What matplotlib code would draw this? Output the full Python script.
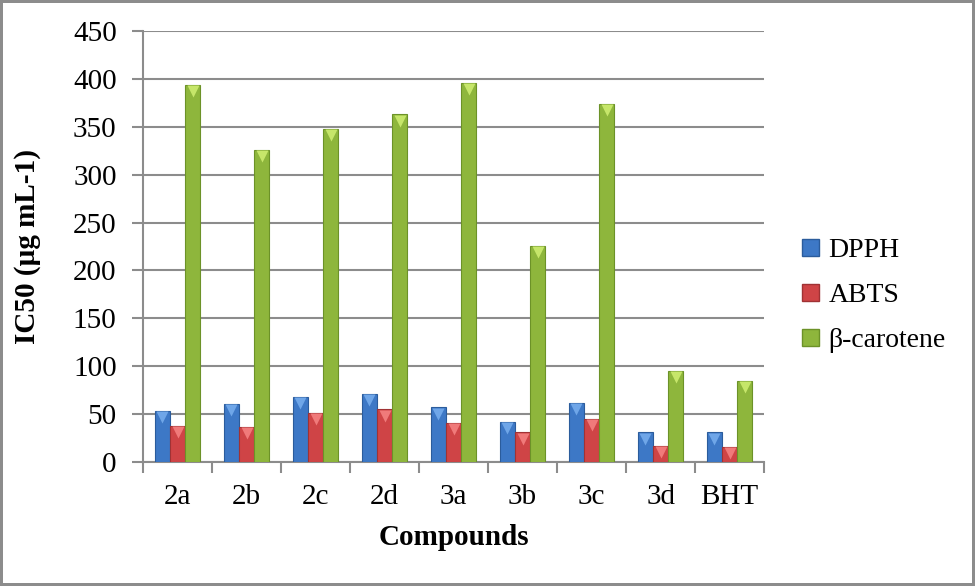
import numpy as np
import matplotlib
matplotlib.use("Agg")
import matplotlib.pyplot as plt
import matplotlib.transforms as mtransforms
from matplotlib.patches import Patch

# datos
compuestos = ['2a', '2b', '2c', '2d', '3a', '3b', '3c', '3d', 'BHT']
dpph = [53, 61, 68, 71, 57, 42, 62, 31, 31]
abts = [38, 37, 51, 55, 41, 31, 45, 17, 16]
beta_caroteno = [394, 326, 348, 363, 396, 226, 374, 95, 85]
series = ['DPPH', 'ABTS', 'β-carotene']

plt.rcParams['font.family'] = ['Liberation Serif', 'DejaVu Serif']

azul = '#3d78c6'
rojo = '#cf4446'
verde = '#8eb63c'
borde_azul = '#2b5c9c'
borde_rojo = '#a03234'
borde_verde = '#6c9228'
gris = '#8c8c8c'
tam = 21

fig = plt.figure(figsize=(9.75, 5.86), dpi=100)
fig.patch.set_edgecolor(gris)
fig.patch.set_linewidth(3)
ax = fig.add_axes([0.1467, 0.2116, 0.637, 0.7355])

x = np.arange(len(compuestos))
ancho = 0.22
ax.bar(x - ancho, dpph, ancho, color=azul, edgecolor=borde_azul, linewidth=0.8, zorder=3)
ax.bar(x, abts, ancho, color=rojo, edgecolor=borde_rojo, linewidth=0.8, zorder=3)
ax.bar(x + ancho, beta_caroteno, ancho, color=verde, edgecolor=borde_verde, linewidth=0.8, zorder=3)

# triangulitos claros arriba de cada barra (efecto 3D)
bajar = mtransforms.ScaledTranslation(0, -4.5 / 72, fig.dpi_scale_trans)
ax.scatter(x - ancho, dpph, marker='v', s=75, color='#6fa6e8', zorder=4,
           linewidths=0, transform=ax.transData + bajar)
ax.scatter(x, abts, marker='v', s=75, color='#f07a7a', zorder=4,
           linewidths=0, transform=ax.transData + bajar)
ax.scatter(x + ancho, beta_caroteno, marker='v', s=75, color='#c6e66a', zorder=4,
           linewidths=0, transform=ax.transData + bajar)

# ejes
ax.set_xlim(-0.5, len(compuestos) - 0.5)
ax.set_ylim(0, 450)
ax.set_yticks(np.arange(0, 451, 50))
ax.set_xticks(x)
ax.set_xticklabels(compuestos)
ax.set_xticks(np.arange(-0.5, len(compuestos)), minor=True)
ax.tick_params(axis='x', which='major', length=0, pad=16, labelsize=tam)
ax.tick_params(axis='x', which='minor', length=8, width=1.5, color=gris)
ax.tick_params(axis='y', length=8, width=1.5, color=gris, pad=11, labelsize=tam)

ax.grid(axis='y', color=gris, linewidth=1.5, zorder=0)
ax.set_axisbelow(True)
for lado in ['top', 'right']:
    ax.spines[lado].set_visible(False)
for lado in ['left', 'bottom']:
    ax.spines[lado].set_color(gris)
    ax.spines[lado].set_linewidth(1.5)

ax.set_xlabel('Compounds', fontsize=tam, fontweight='bold')
ax.set_ylabel('IC50 (µg mL-1)', fontsize=tam, fontweight='bold')
ax.xaxis.set_label_coords(0.5, -0.145)
ax.yaxis.set_label_coords(-0.165, 0.5)

# leyenda
manijas = [Patch(facecolor=azul, edgecolor=borde_azul),
           Patch(facecolor=rojo, edgecolor=borde_rojo),
           Patch(facecolor=verde, edgecolor=borde_verde)]
fig.legend(manijas, series, loc='center left', bbox_to_anchor=(0.797, 0.495),
           frameon=False, fontsize=20, handlelength=0.6, handleheight=0.6,
           handletextpad=0.35, labelspacing=0.72)

plt.savefig('out.png', dpi=100, edgecolor=fig.get_edgecolor())
